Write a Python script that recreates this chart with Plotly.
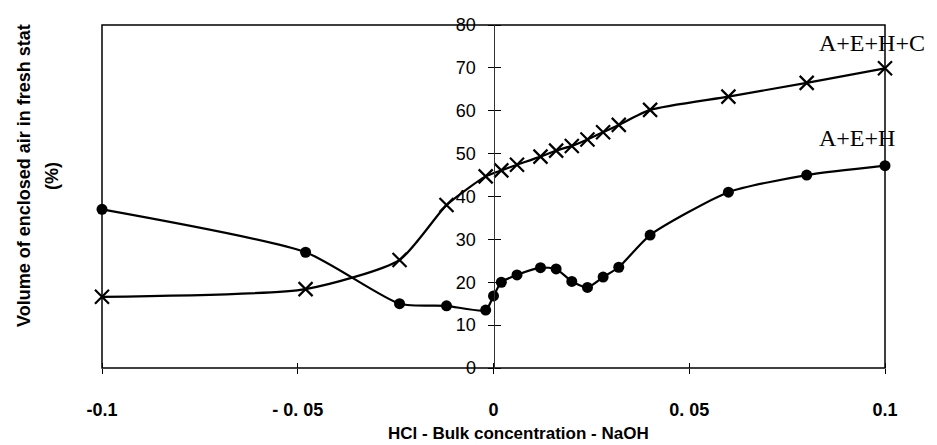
import plotly.graph_objects as go

# Bulk concentration (negative = HCl, positive = NaOH)
conc_aeh = [-0.1, -0.048, -0.024, -0.012, -0.002, 0.0, 0.002, 0.006, 0.012,
            0.016, 0.02, 0.024, 0.028, 0.032, 0.04, 0.06, 0.08, 0.1]
air_aeh = [37.0, 27.0, 15.0, 14.5, 13.5, 16.8, 20.0, 21.7, 23.4,
           23.1, 20.2, 18.8, 21.2, 23.5, 31.0, 41.0, 45.0, 47.2]

conc_aehc = [-0.1, -0.048, -0.024, -0.012, -0.002, 0.002, 0.006, 0.012,
             0.016, 0.02, 0.024, 0.028, 0.032, 0.04, 0.06, 0.08, 0.1]
air_aehc = [16.6, 18.4, 25.2, 38.0, 44.7, 46.1, 47.4, 49.3,
            50.7, 51.8, 53.3, 55.0, 56.7, 60.2, 63.3, 66.5, 69.9]

x_tickvals = [-0.1, -0.05, 0, 0.05, 0.1]
x_ticktext = ["-0.1", "- 0. 05", "0", "0. 05", "0.1"]
y_tickvals = [0, 10, 20, 30, 40, 50, 60, 70, 80]

series_labels = ["A+E+H+C", "A+E+H"]

X_RANGE = [-0.1, 0.1]
Y_RANGE = [0, 80]

fig = go.Figure()

fig.add_trace(go.Scatter(
    x=conc_aeh, y=air_aeh, mode="lines+markers",
    line=dict(color="black", width=2.2, shape="spline", smoothing=0.6),
    marker=dict(symbol="circle", size=11, color="black"),
    cliponaxis=False, showlegend=False, hoverinfo="x+y",
))
fig.add_trace(go.Scatter(
    x=conc_aehc, y=air_aehc, mode="lines+markers",
    line=dict(color="black", width=2.2, shape="spline", smoothing=0.6),
    marker=dict(symbol="x-thin", size=14, color="black",
                line=dict(color="black", width=2.2)),
    cliponaxis=False, showlegend=False, hoverinfo="x+y",
))
# empty trace so the mirror axes (other half of the crossing ticks) are drawn
fig.add_trace(go.Scatter(x=[None], y=[None], xaxis="x2", yaxis="y2",
                         showlegend=False, hoverinfo="skip"))

bold_narrow = dict(family="Liberation Sans Narrow, Arial Narrow, Liberation Sans",
                   size=18, color="black", weight="bold")

fig.update_layout(
    width=937, height=445,
    margin=dict(l=102, r=52, t=25, b=77, autoexpand=False),
    paper_bgcolor="white", plot_bgcolor="white",
    showlegend=False,
    xaxis=dict(
        range=X_RANGE, tickvals=x_tickvals, ticktext=x_ticktext,
        ticks="outside", ticklen=5, tickwidth=1, tickcolor="black",
        showgrid=False, zeroline=False, showline=False,
        tickfont=bold_narrow, ticklabelstandoff=20,
        anchor="y", automargin=False,
    ),
    xaxis2=dict(
        range=X_RANGE, tickvals=x_tickvals, overlaying="x",
        anchor="free", position=0, side="top",
        ticks="outside", ticklen=5, tickwidth=1, tickcolor="black",
        showticklabels=False, showgrid=False, zeroline=False, showline=False,
        automargin=False,
    ),
    yaxis=dict(
        range=Y_RANGE, tickvals=y_tickvals,
        anchor="free", position=0.5, side="left",
        ticks="outside", ticklen=6, tickwidth=1, tickcolor="black",
        showline=True, linecolor="#333333", linewidth=1,
        showgrid=False, zeroline=False,
        tickfont=dict(family="Liberation Sans, Arial", size=18, color="black"),
        ticklabelstandoff=8, automargin=False,
    ),
    yaxis2=dict(
        range=Y_RANGE, tickvals=y_tickvals, overlaying="y",
        anchor="free", position=0.5, side="right",
        ticks="outside", ticklen=6, tickwidth=1, tickcolor="black",
        showticklabels=False, showgrid=False, zeroline=False, showline=False,
        automargin=False,
    ),
    shapes=[dict(type="rect", xref="paper", yref="paper", x0=0, y0=0, x1=1, y1=1,
                 line=dict(color="black", width=1.5), layer="below")],
    annotations=[
        dict(text="HCl - Bulk concentration - NaOH", xref="paper", yref="paper",
             x=0.532, y=0, xanchor="center", yanchor="middle", yshift=-65,
             showarrow=False,
             font=dict(family="Liberation Sans Narrow, Arial Narrow, Liberation Sans",
                       size=17, color="black", weight="bold")),
        dict(text="Volume of enclosed air in fresh stat", xref="paper", yref="paper",
             x=0, y=0.56, xanchor="center", yanchor="middle", textangle=-90,
             showarrow=False, xshift=-78,
             font=dict(family="Liberation Sans, Arial", size=18, color="black",
                       weight="bold")),
        dict(text="(%)", xref="paper", yref="paper",
             x=0, y=0.56, xanchor="center", yanchor="middle", textangle=-90,
             showarrow=False, xshift=-50,
             font=dict(family="Liberation Sans, Arial", size=18, color="black",
                       weight="bold")),
        dict(text=series_labels[0], xref="paper", yref="paper", x=1, y=1,
             xanchor="left", yanchor="middle", xshift=-68, yshift=-18,
             showarrow=False,
             font=dict(family="Liberation Serif, Times New Roman", size=24,
                       color="black")),
        dict(text=series_labels[1], xref="paper", yref="paper", x=1, y=1,
             xanchor="left", yanchor="middle", xshift=-68, yshift=-113,
             showarrow=False,
             font=dict(family="Liberation Serif, Times New Roman", size=24,
                       color="black")),
    ],
)

fig.write_html("out.html")
